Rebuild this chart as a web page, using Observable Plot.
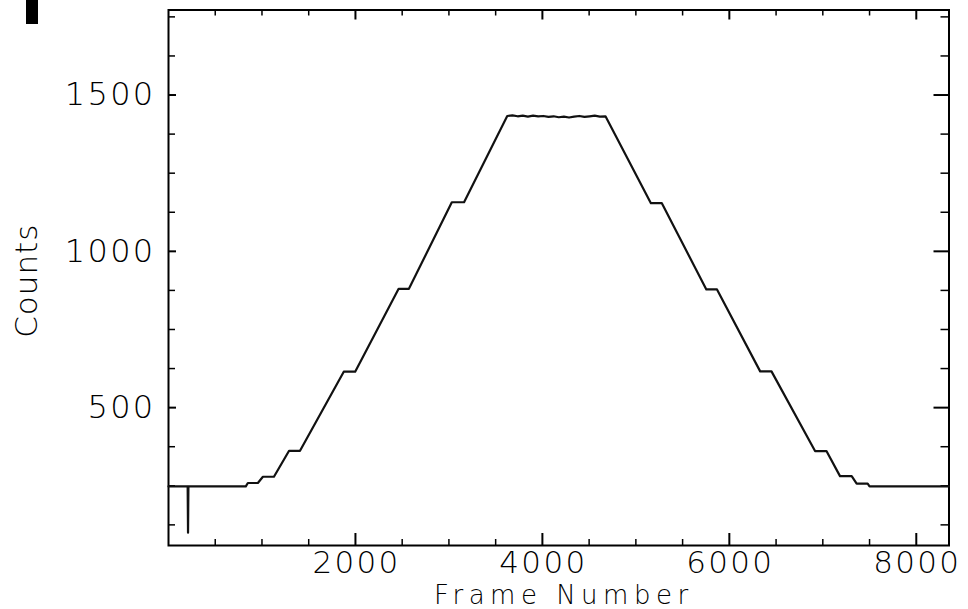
<!DOCTYPE html>
<html><head><meta charset="utf-8">
<script src="https://cdn.jsdelivr.net/npm/d3@7"></script>
<script src="https://cdn.jsdelivr.net/npm/@observablehq/plot@0.6"></script>
<style>
html,body{margin:0;padding:0;background:#fff;}
#wrap{position:relative;width:968px;height:609px;overflow:hidden;}
#blot{position:absolute;left:26px;top:0;width:12px;height:24px;background:#000;}
</style></head><body><div id="wrap"><div id="blot"></div></div>
<script>
const frames = [0, 205, 209, 213, 827, 849, 956, 1010, 1128, 1290, 1407, 1875, 1997, 2462, 2572, 3031, 3162,
  3624, 3680, 3735, 3790, 3845, 3900, 3955, 4010, 4065, 4120, 4175, 4230, 4285, 4340, 4395, 4450, 4505, 4560, 4615, 4675,
  5161, 5278, 5754, 5868, 6330, 6451, 6917, 7039, 7184, 7309, 7362, 7480, 7500, 8350];
const counts = [248, 248, 100, 248, 248, 259, 259, 279, 279, 362, 362, 615, 615, 880, 880, 1157, 1157,
  1433, 1435, 1432, 1434, 1431, 1434, 1432, 1433, 1430, 1432, 1429, 1431, 1428, 1431, 1433, 1430, 1432, 1434, 1431, 1432,
  1154, 1154, 878, 878, 616, 616, 361, 361, 281, 281, 257, 257, 248, 248];
const xMajor = [2000, 4000, 6000, 8000];
const xMinor = [500, 1000, 1500, 2500, 3000, 3500, 4500, 5000, 5500, 6500, 7000, 7500];
const yMajor = [500, 1000, 1500];
const yMinor = [125, 250, 375, 625, 750, 875, 1125, 1250, 1375, 1625, 1750];
const xTitle = "Frame Number";
const yTitle = "Counts";

const data = frames.map((f, i) => ({frame: f, count: counts[i]}));
const W = 968, H = 609, mL = 168, mR = 19.5, mT = 9.5, mB = 64;
const fh = H - mT - mB, fw = W - mL - mR;
const ink = "#000";
const font = "'DejaVu Sans', sans-serif";

const chart = Plot.plot({
  width: W, height: H,
  marginLeft: mL, marginRight: mR, marginTop: mT, marginBottom: mB,
  x: {domain: [0, 8350], axis: null},
  y: {domain: [59, 1772], axis: null},
  style: {fontFamily: font, background: "white", color: ink},
  marks: [
    Plot.frame({stroke: ink, strokeWidth: 2}),
    // bottom ticks
    Plot.ruleX(xMajor, {x: d => d, insetTop: fh - 12, stroke: ink, strokeWidth: 2}),
    Plot.ruleX(xMinor, {x: d => d, insetTop: fh - 6, stroke: ink, strokeWidth: 1.5}),
    // top ticks
    Plot.ruleX(xMajor, {x: d => d, insetBottom: fh - 10, stroke: ink, strokeWidth: 2}),
    Plot.ruleX(xMinor, {x: d => d, insetBottom: fh - 6, stroke: ink, strokeWidth: 1.5}),
    // left ticks
    Plot.ruleY(yMajor, {y: d => d, insetRight: fw - 8, stroke: ink, strokeWidth: 2}),
    Plot.ruleY(yMinor, {y: d => d, insetRight: fw - 7, stroke: ink, strokeWidth: 1.5}),
    // right ticks
    Plot.ruleY(yMajor, {y: d => d, insetLeft: fw - 15, stroke: ink, strokeWidth: 2}),
    Plot.ruleY(yMinor, {y: d => d, insetLeft: fw - 8, stroke: ink, strokeWidth: 1.5}),
    // data
    Plot.line(data, {x: "frame", y: "count", stroke: "#111", strokeWidth: 2.2}),
    // tick labels
    Plot.text(xMajor, {x: d => d, text: d => String(d), frameAnchor: "bottom", lineAnchor: "top",
      dx: 1, dy: 5, fontSize: 31, fontWeight: 200, fill: ink}),
    Plot.text(yMajor, {y: d => d, text: d => String(d), frameAnchor: "left", textAnchor: "end",
      dx: -13, fontSize: 32, fontWeight: 200, fill: ink}),
    Plot.text([xTitle], {frameAnchor: "bottom", textAnchor: "middle", lineAnchor: "middle", dx: 5, dy: 50, fontSize: 26,
      fontWeight: 200, fill: ink}),
    Plot.text([yTitle], {frameAnchor: "left", textAnchor: "middle", rotate: -90, dx: -141, dy: 3, fontSize: 31,
      fontWeight: 200, fill: ink})
  ]
});
d3.select(chart).selectAll("text").each(function () {
  const t = this.textContent;
  let ls = null;
  if (/^\d+$/.test(t)) ls = "2.3px";
  else if (t === xTitle) ls = "5.5px";
  else if (t === yTitle) ls = "1px";
  if (ls) this.style.letterSpacing = ls;
});
document.getElementById("wrap").appendChild(chart);
</script>
</body></html>
